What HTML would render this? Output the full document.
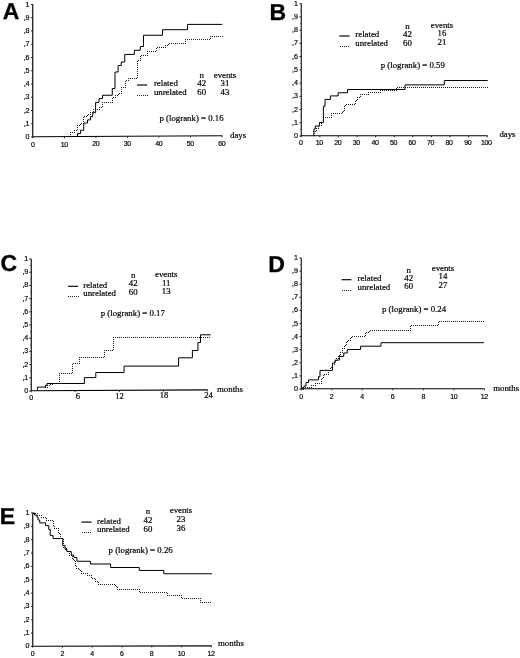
<!DOCTYPE html>
<html><head><meta charset="utf-8"><title>Figure</title>
<style>
html,body{margin:0;padding:0;background:#fff;}
body{width:520px;height:658px;overflow:hidden;font-family:"Liberation Sans",sans-serif;}
svg{display:block;filter:grayscale(1);}
text.sf{fill:#000;stroke:#000;stroke-width:0.2px;}text.lb{fill:#000;stroke:#000;stroke-width:0.18px;}text.lt{fill:#000;stroke:#000;stroke-width:0.3px;}
</style></head><body>
<svg width="520" height="658" viewBox="0 0 520 658">
<rect width="520" height="658" fill="#fff"/>
<text x="2.80" y="19.00" class="lt" style="text-rendering:geometricPrecision" font-size="23px" font-family='"Liberation Sans", sans-serif' font-weight="bold">A</text>
<path d="M32.75 4.20 V136.75 L222.50 135.75" fill="none" stroke="#000" stroke-width="1.12"/>
<path d="M31.00 137.00 H32.80" stroke="#111" stroke-width="0.9"/>
<text x="29.40" y="139.00" class="lb" font-size="7.20px" font-family='"Liberation Sans", sans-serif' text-anchor="end" font-weight="normal" letter-spacing="-0.15">0</text>
<path d="M31.00 123.75 H32.80" stroke="#111" stroke-width="0.9"/>
<text x="29.40" y="125.75" class="lb" font-size="7.20px" font-family='"Liberation Sans", sans-serif' text-anchor="end" font-weight="normal" letter-spacing="-0.15">,1</text>
<path d="M31.00 110.50 H32.80" stroke="#111" stroke-width="0.9"/>
<text x="29.40" y="112.50" class="lb" font-size="7.20px" font-family='"Liberation Sans", sans-serif' text-anchor="end" font-weight="normal" letter-spacing="-0.15">,2</text>
<path d="M31.00 97.25 H32.80" stroke="#111" stroke-width="0.9"/>
<text x="29.40" y="99.25" class="lb" font-size="7.20px" font-family='"Liberation Sans", sans-serif' text-anchor="end" font-weight="normal" letter-spacing="-0.15">,3</text>
<path d="M31.00 84.00 H32.80" stroke="#111" stroke-width="0.9"/>
<text x="29.40" y="86.00" class="lb" font-size="7.20px" font-family='"Liberation Sans", sans-serif' text-anchor="end" font-weight="normal" letter-spacing="-0.15">,4</text>
<path d="M31.00 70.75 H32.80" stroke="#111" stroke-width="0.9"/>
<text x="29.40" y="72.75" class="lb" font-size="7.20px" font-family='"Liberation Sans", sans-serif' text-anchor="end" font-weight="normal" letter-spacing="-0.15">,5</text>
<path d="M31.00 57.50 H32.80" stroke="#111" stroke-width="0.9"/>
<text x="29.40" y="59.50" class="lb" font-size="7.20px" font-family='"Liberation Sans", sans-serif' text-anchor="end" font-weight="normal" letter-spacing="-0.15">,6</text>
<path d="M31.00 44.25 H32.80" stroke="#111" stroke-width="0.9"/>
<text x="29.40" y="46.25" class="lb" font-size="7.20px" font-family='"Liberation Sans", sans-serif' text-anchor="end" font-weight="normal" letter-spacing="-0.15">,7</text>
<path d="M31.00 31.00 H32.80" stroke="#111" stroke-width="0.9"/>
<text x="29.40" y="33.00" class="lb" font-size="7.20px" font-family='"Liberation Sans", sans-serif' text-anchor="end" font-weight="normal" letter-spacing="-0.15">,8</text>
<path d="M31.00 17.75 H32.80" stroke="#111" stroke-width="0.9"/>
<text x="29.40" y="19.75" class="lb" font-size="7.20px" font-family='"Liberation Sans", sans-serif' text-anchor="end" font-weight="normal" letter-spacing="-0.15">,9</text>
<path d="M31.00 4.50 H32.80" stroke="#111" stroke-width="0.9"/>
<text x="29.40" y="6.50" class="lb" font-size="7.20px" font-family='"Liberation Sans", sans-serif' text-anchor="end" font-weight="normal" letter-spacing="-0.15">1</text>
<path d="M31.80 130.38 H32.80" stroke="#222" stroke-width="0.6"/>
<path d="M31.80 117.12 H32.80" stroke="#222" stroke-width="0.6"/>
<path d="M31.80 103.88 H32.80" stroke="#222" stroke-width="0.6"/>
<path d="M31.80 90.62 H32.80" stroke="#222" stroke-width="0.6"/>
<path d="M31.80 77.38 H32.80" stroke="#222" stroke-width="0.6"/>
<path d="M31.80 64.12 H32.80" stroke="#222" stroke-width="0.6"/>
<path d="M31.80 50.88 H32.80" stroke="#222" stroke-width="0.6"/>
<path d="M31.80 37.62 H32.80" stroke="#222" stroke-width="0.6"/>
<path d="M31.80 24.38 H32.80" stroke="#222" stroke-width="0.6"/>
<path d="M31.80 11.12 H32.80" stroke="#222" stroke-width="0.6"/>
<path d="M33.00 137.00 V138.30" stroke="#111" stroke-width="0.9"/>
<text x="32.80" y="146.70" class="lb" font-size="7.00px" font-family='"Liberation Sans", sans-serif' text-anchor="middle" font-weight="normal" letter-spacing="-0.4">0</text>
<path d="M64.50 136.83 V138.13" stroke="#111" stroke-width="0.9"/>
<text x="64.30" y="146.53" class="lb" font-size="7.00px" font-family='"Liberation Sans", sans-serif' text-anchor="middle" font-weight="normal" letter-spacing="-0.4">10</text>
<path d="M96.00 136.67 V137.97" stroke="#111" stroke-width="0.9"/>
<text x="95.80" y="146.37" class="lb" font-size="7.00px" font-family='"Liberation Sans", sans-serif' text-anchor="middle" font-weight="normal" letter-spacing="-0.4">20</text>
<path d="M127.50 136.50 V137.80" stroke="#111" stroke-width="0.9"/>
<text x="127.30" y="146.20" class="lb" font-size="7.00px" font-family='"Liberation Sans", sans-serif' text-anchor="middle" font-weight="normal" letter-spacing="-0.4">30</text>
<path d="M159.00 136.34 V137.64" stroke="#111" stroke-width="0.9"/>
<text x="158.80" y="146.04" class="lb" font-size="7.00px" font-family='"Liberation Sans", sans-serif' text-anchor="middle" font-weight="normal" letter-spacing="-0.4">40</text>
<path d="M190.50 136.17 V137.47" stroke="#111" stroke-width="0.9"/>
<text x="190.30" y="145.87" class="lb" font-size="7.00px" font-family='"Liberation Sans", sans-serif' text-anchor="middle" font-weight="normal" letter-spacing="-0.4">50</text>
<path d="M222.00 136.00 V137.30" stroke="#111" stroke-width="0.9"/>
<text x="221.80" y="145.70" class="lb" font-size="7.00px" font-family='"Liberation Sans", sans-serif' text-anchor="middle" font-weight="normal" letter-spacing="-0.4">60</text>
<text x="230.00" y="137.50" class="sf" font-size="8.80px" font-family='"Liberation Serif", serif' text-anchor="start" font-weight="normal" >days</text>
<path d="M77.50 137.00 H77.50 V133.60 H80.60 V130.25 H83.75 V123.00 H87.50 V119.90 H90.60 V116.50 H92.75 V112.75 H95.60 V102.40 H99.00 V98.60 H102.50 V95.25 H112.25 V88.50 H115.00 V72.00 H118.10 V65.50 H121.25 V62.00 H124.75 V54.40 H134.40 V50.25 H140.25 V46.50 H143.50 V35.25 H162.50 V29.70 H187.50 V24.40 H222.30" fill="none" stroke="#000" stroke-width="1.0" stroke-linejoin="miter"/>
<path d="M70 132h1v1h-1zM70 134h1v1h-1zM70 136h1v1h-1zM72 132h1v1h-1zM74 132h1v1h-1zM74 130h1v1h-1zM76 130h1v1h-1zM77 125h1v1h-1zM77 127h1v1h-1zM77 129h1v1h-1zM79 125h1v1h-1zM80 124h1v1h-1zM81 123h1v1h-1zM83 123h1v1h-1zM83 117h1v1h-1zM83 119h1v1h-1zM83 121h1v1h-1zM84 116h1v1h-1zM86 116h1v1h-1zM87 115h1v1h-1zM88 114h1v1h-1zM90 114h1v1h-1zM90 112h1v1h-1zM92 112h1v1h-1zM93 109h1v1h-1zM93 111h1v1h-1zM95 109h1v1h-1zM97 109h1v1h-1zM99 109h1v1h-1zM99 107h1v1h-1zM101 107h1v1h-1zM102 102h1v1h-1zM102 104h1v1h-1zM102 106h1v1h-1zM104 102h1v1h-1zM106 102h1v1h-1zM108 102h1v1h-1zM110 102h1v1h-1zM112 102h1v1h-1zM112 98h1v1h-1zM112 100h1v1h-1zM113 97h1v1h-1zM115 97h1v1h-1zM115 95h1v1h-1zM117 95h1v1h-1zM118 94h1v1h-1zM119 93h1v1h-1zM121 93h1v1h-1zM121 87h1v1h-1zM121 89h1v1h-1zM121 91h1v1h-1zM123 87h1v1h-1zM125 87h1v1h-1zM125 81h1v1h-1zM125 83h1v1h-1zM125 85h1v1h-1zM126 80h1v1h-1zM128 80h1v1h-1zM128 78h1v1h-1zM130 78h1v1h-1zM132 78h1v1h-1zM134 78h1v1h-1zM136 78h1v1h-1zM137 61h1v1h-1zM137 63h1v1h-1zM137 65h1v1h-1zM137 67h1v1h-1zM137 69h1v1h-1zM137 71h1v1h-1zM137 73h1v1h-1zM137 75h1v1h-1zM137 77h1v1h-1zM138 60h1v1h-1zM140 60h1v1h-1zM140 56h1v1h-1zM140 58h1v1h-1zM141 55h1v1h-1zM143 55h1v1h-1zM145 55h1v1h-1zM147 55h1v1h-1zM147 51h1v1h-1zM147 53h1v1h-1zM149 51h1v1h-1zM151 51h1v1h-1zM153 51h1v1h-1zM155 51h1v1h-1zM156 48h1v1h-1zM156 50h1v1h-1zM157 47h1v1h-1zM159 47h1v1h-1zM161 47h1v1h-1zM163 47h1v1h-1zM165 47h1v1h-1zM165 45h1v1h-1zM167 45h1v1h-1zM168 44h1v1h-1zM169 43h1v1h-1zM171 43h1v1h-1zM173 43h1v1h-1zM175 43h1v1h-1zM177 43h1v1h-1zM179 43h1v1h-1zM181 43h1v1h-1zM183 43h1v1h-1zM185 43h1v1h-1zM185 39h1v1h-1zM185 41h1v1h-1zM187 39h1v1h-1zM189 39h1v1h-1zM191 39h1v1h-1zM193 39h1v1h-1zM195 39h1v1h-1zM197 39h1v1h-1zM199 39h1v1h-1zM201 39h1v1h-1zM203 39h1v1h-1zM205 39h1v1h-1zM207 39h1v1h-1zM209 39h1v1h-1zM210 36h1v1h-1zM210 38h1v1h-1zM212 36h1v1h-1zM214 36h1v1h-1zM216 36h1v1h-1zM218 36h1v1h-1zM220 36h1v1h-1zM222 36h1v1h-1z" fill="#1a1a1a"/>
<path d="M137.00 85.00 H147.20" fill="none" stroke="#000" stroke-width="1.15"/>
<path d="M137 95h1v1h-1zM139 95h1v1h-1zM141 95h1v1h-1zM143 95h1v1h-1zM145 95h1v1h-1zM147 95h1v1h-1z" fill="#1a1a1a"/>
<text x="153.90" y="86.00" class="sf" font-size="8.80px" font-family='"Liberation Serif", serif' text-anchor="start" font-weight="normal" >related</text>
<text x="153.90" y="95.00" class="sf" font-size="8.80px" font-family='"Liberation Serif", serif' text-anchor="start" font-weight="normal" >unrelated</text>
<text x="201.75" y="78.40" class="sf" font-size="8.80px" font-family='"Liberation Serif", serif' text-anchor="middle" font-weight="normal" >n</text>
<text x="225.00" y="78.40" class="sf" font-size="8.80px" font-family='"Liberation Serif", serif' text-anchor="middle" font-weight="normal" >events</text>
<text x="201.75" y="86.00" class="sf" font-size="8.80px" font-family='"Liberation Serif", serif' text-anchor="middle" font-weight="normal" >42</text>
<text x="201.75" y="95.00" class="sf" font-size="8.80px" font-family='"Liberation Serif", serif' text-anchor="middle" font-weight="normal" >60</text>
<text x="225.00" y="86.00" class="sf" font-size="8.80px" font-family='"Liberation Serif", serif' text-anchor="middle" font-weight="normal" >31</text>
<text x="225.00" y="95.00" class="sf" font-size="8.80px" font-family='"Liberation Serif", serif' text-anchor="middle" font-weight="normal" >43</text>
<text x="159.50" y="121.00" class="sf" font-size="8.80px" font-family='"Liberation Serif", serif' text-anchor="start" font-weight="normal" >p (logrank) = 0.16</text>
<text x="269.40" y="19.75" class="lt" style="text-rendering:geometricPrecision" font-size="23px" font-family='"Liberation Sans", sans-serif' font-weight="bold">B</text>
<path d="M301.25 3.45 V135.75 L487.70 135.75" fill="none" stroke="#000" stroke-width="1.05"/>
<path d="M299.40 136.00 H301.20" stroke="#111" stroke-width="0.9"/>
<text x="297.80" y="138.00" class="lb" font-size="7.20px" font-family='"Liberation Sans", sans-serif' text-anchor="end" font-weight="normal" letter-spacing="-0.15">0</text>
<path d="M299.40 122.78 H301.20" stroke="#111" stroke-width="0.9"/>
<text x="297.80" y="124.78" class="lb" font-size="7.20px" font-family='"Liberation Sans", sans-serif' text-anchor="end" font-weight="normal" letter-spacing="-0.15">,1</text>
<path d="M299.40 109.55 H301.20" stroke="#111" stroke-width="0.9"/>
<text x="297.80" y="111.55" class="lb" font-size="7.20px" font-family='"Liberation Sans", sans-serif' text-anchor="end" font-weight="normal" letter-spacing="-0.15">,2</text>
<path d="M299.40 96.33 H301.20" stroke="#111" stroke-width="0.9"/>
<text x="297.80" y="98.33" class="lb" font-size="7.20px" font-family='"Liberation Sans", sans-serif' text-anchor="end" font-weight="normal" letter-spacing="-0.15">,3</text>
<path d="M299.40 83.10 H301.20" stroke="#111" stroke-width="0.9"/>
<text x="297.80" y="85.10" class="lb" font-size="7.20px" font-family='"Liberation Sans", sans-serif' text-anchor="end" font-weight="normal" letter-spacing="-0.15">,4</text>
<path d="M299.40 69.88 H301.20" stroke="#111" stroke-width="0.9"/>
<text x="297.80" y="71.88" class="lb" font-size="7.20px" font-family='"Liberation Sans", sans-serif' text-anchor="end" font-weight="normal" letter-spacing="-0.15">,5</text>
<path d="M299.40 56.65 H301.20" stroke="#111" stroke-width="0.9"/>
<text x="297.80" y="58.65" class="lb" font-size="7.20px" font-family='"Liberation Sans", sans-serif' text-anchor="end" font-weight="normal" letter-spacing="-0.15">,6</text>
<path d="M299.40 43.42 H301.20" stroke="#111" stroke-width="0.9"/>
<text x="297.80" y="45.42" class="lb" font-size="7.20px" font-family='"Liberation Sans", sans-serif' text-anchor="end" font-weight="normal" letter-spacing="-0.15">,7</text>
<path d="M299.40 30.20 H301.20" stroke="#111" stroke-width="0.9"/>
<text x="297.80" y="32.20" class="lb" font-size="7.20px" font-family='"Liberation Sans", sans-serif' text-anchor="end" font-weight="normal" letter-spacing="-0.15">,8</text>
<path d="M299.40 16.98 H301.20" stroke="#111" stroke-width="0.9"/>
<text x="297.80" y="18.98" class="lb" font-size="7.20px" font-family='"Liberation Sans", sans-serif' text-anchor="end" font-weight="normal" letter-spacing="-0.15">,9</text>
<path d="M299.40 3.75 H301.20" stroke="#111" stroke-width="0.9"/>
<text x="297.80" y="5.75" class="lb" font-size="7.20px" font-family='"Liberation Sans", sans-serif' text-anchor="end" font-weight="normal" letter-spacing="-0.15">1</text>
<path d="M300.20 129.39 H301.20" stroke="#222" stroke-width="0.6"/>
<path d="M300.20 116.16 H301.20" stroke="#222" stroke-width="0.6"/>
<path d="M300.20 102.94 H301.20" stroke="#222" stroke-width="0.6"/>
<path d="M300.20 89.71 H301.20" stroke="#222" stroke-width="0.6"/>
<path d="M300.20 76.49 H301.20" stroke="#222" stroke-width="0.6"/>
<path d="M300.20 63.26 H301.20" stroke="#222" stroke-width="0.6"/>
<path d="M300.20 50.04 H301.20" stroke="#222" stroke-width="0.6"/>
<path d="M300.20 36.81 H301.20" stroke="#222" stroke-width="0.6"/>
<path d="M300.20 23.59 H301.20" stroke="#222" stroke-width="0.6"/>
<path d="M300.20 10.36 H301.20" stroke="#222" stroke-width="0.6"/>
<path d="M301.20 136.00 V137.30" stroke="#111" stroke-width="0.9"/>
<text x="300.70" y="145.40" class="lb" font-size="7.00px" font-family='"Liberation Sans", sans-serif' text-anchor="middle" font-weight="normal" letter-spacing="-0.4">0</text>
<path d="M319.80 136.00 V137.30" stroke="#111" stroke-width="0.9"/>
<text x="319.25" y="145.40" class="lb" font-size="7.00px" font-family='"Liberation Sans", sans-serif' text-anchor="middle" font-weight="normal" letter-spacing="-0.4">10</text>
<path d="M338.40 136.00 V137.30" stroke="#111" stroke-width="0.9"/>
<text x="337.80" y="145.40" class="lb" font-size="7.00px" font-family='"Liberation Sans", sans-serif' text-anchor="middle" font-weight="normal" letter-spacing="-0.4">20</text>
<path d="M357.00 136.00 V137.30" stroke="#111" stroke-width="0.9"/>
<text x="356.35" y="145.40" class="lb" font-size="7.00px" font-family='"Liberation Sans", sans-serif' text-anchor="middle" font-weight="normal" letter-spacing="-0.4">30</text>
<path d="M375.60 136.00 V137.30" stroke="#111" stroke-width="0.9"/>
<text x="374.90" y="145.40" class="lb" font-size="7.00px" font-family='"Liberation Sans", sans-serif' text-anchor="middle" font-weight="normal" letter-spacing="-0.4">40</text>
<path d="M394.20 136.00 V137.30" stroke="#111" stroke-width="0.9"/>
<text x="393.45" y="145.40" class="lb" font-size="7.00px" font-family='"Liberation Sans", sans-serif' text-anchor="middle" font-weight="normal" letter-spacing="-0.4">50</text>
<path d="M412.80 136.00 V137.30" stroke="#111" stroke-width="0.9"/>
<text x="412.00" y="145.40" class="lb" font-size="7.00px" font-family='"Liberation Sans", sans-serif' text-anchor="middle" font-weight="normal" letter-spacing="-0.4">60</text>
<path d="M431.40 136.00 V137.30" stroke="#111" stroke-width="0.9"/>
<text x="430.55" y="145.40" class="lb" font-size="7.00px" font-family='"Liberation Sans", sans-serif' text-anchor="middle" font-weight="normal" letter-spacing="-0.4">70</text>
<path d="M450.00 136.00 V137.30" stroke="#111" stroke-width="0.9"/>
<text x="449.10" y="145.40" class="lb" font-size="7.00px" font-family='"Liberation Sans", sans-serif' text-anchor="middle" font-weight="normal" letter-spacing="-0.4">80</text>
<path d="M468.60 136.00 V137.30" stroke="#111" stroke-width="0.9"/>
<text x="467.65" y="145.40" class="lb" font-size="7.00px" font-family='"Liberation Sans", sans-serif' text-anchor="middle" font-weight="normal" letter-spacing="-0.4">90</text>
<path d="M487.20 136.00 V137.30" stroke="#111" stroke-width="0.9"/>
<text x="486.20" y="145.40" class="lb" font-size="7.00px" font-family='"Liberation Sans", sans-serif' text-anchor="middle" font-weight="normal" letter-spacing="-0.4">100</text>
<text x="499.40" y="136.90" class="sf" font-size="8.80px" font-family='"Liberation Serif", serif' text-anchor="start" font-weight="normal" >days</text>
<path d="M314.00 136.00 H314.00 V129.00 H315.25 V126.00 H319.40 V122.50 H323.40 V106.25 H325.00 V99.40 H330.40 V95.90 H338.10 V92.75 H347.50 V89.50 H405.00 V84.85 H444.30 V80.50 H487.70" fill="none" stroke="#000" stroke-width="1.0" stroke-linejoin="miter"/>
<path d="M313 131h1v1h-1zM313 133h1v1h-1zM313 135h1v1h-1zM315 131h1v1h-1zM316 128h1v1h-1zM316 130h1v1h-1zM318 128h1v1h-1zM318 126h1v1h-1zM319 125h1v1h-1zM321 125h1v1h-1zM321 123h1v1h-1zM322 122h1v1h-1zM323 117h1v1h-1zM323 119h1v1h-1zM323 121h1v1h-1zM325 117h1v1h-1zM327 117h1v1h-1zM329 117h1v1h-1zM331 117h1v1h-1zM331 113h1v1h-1zM331 115h1v1h-1zM333 113h1v1h-1zM335 113h1v1h-1zM337 113h1v1h-1zM339 113h1v1h-1zM341 113h1v1h-1zM342 112h1v1h-1zM343 111h1v1h-1zM344 106h1v1h-1zM344 108h1v1h-1zM344 110h1v1h-1zM345 105h1v1h-1zM346 104h1v1h-1zM348 104h1v1h-1zM350 104h1v1h-1zM352 104h1v1h-1zM354 104h1v1h-1zM355 101h1v1h-1zM355 103h1v1h-1zM356 100h1v1h-1zM357 97h1v1h-1zM357 99h1v1h-1zM359 97h1v1h-1zM360 94h1v1h-1zM360 96h1v1h-1zM362 94h1v1h-1zM364 94h1v1h-1zM366 94h1v1h-1zM368 94h1v1h-1zM368 92h1v1h-1zM370 92h1v1h-1zM372 92h1v1h-1zM374 92h1v1h-1zM376 92h1v1h-1zM378 92h1v1h-1zM380 92h1v1h-1zM380 90h1v1h-1zM382 90h1v1h-1zM384 90h1v1h-1zM386 90h1v1h-1zM388 90h1v1h-1zM390 90h1v1h-1zM392 90h1v1h-1zM394 90h1v1h-1zM396 90h1v1h-1zM396 88h1v1h-1zM397 87h1v1h-1zM399 87h1v1h-1zM401 87h1v1h-1zM403 87h1v1h-1zM405 87h1v1h-1zM407 87h1v1h-1zM409 87h1v1h-1zM411 87h1v1h-1zM413 87h1v1h-1zM415 87h1v1h-1zM417 87h1v1h-1zM419 87h1v1h-1zM421 87h1v1h-1zM423 87h1v1h-1zM425 87h1v1h-1zM427 87h1v1h-1zM429 87h1v1h-1zM431 87h1v1h-1zM433 87h1v1h-1zM435 87h1v1h-1zM437 87h1v1h-1zM439 87h1v1h-1zM441 87h1v1h-1zM443 87h1v1h-1zM445 87h1v1h-1zM447 87h1v1h-1zM449 87h1v1h-1zM451 87h1v1h-1zM453 87h1v1h-1zM455 87h1v1h-1zM457 87h1v1h-1zM459 87h1v1h-1zM461 87h1v1h-1zM463 87h1v1h-1zM465 87h1v1h-1zM467 87h1v1h-1zM469 87h1v1h-1zM471 87h1v1h-1zM473 87h1v1h-1zM475 87h1v1h-1zM477 87h1v1h-1zM479 87h1v1h-1zM481 87h1v1h-1zM483 87h1v1h-1zM485 87h1v1h-1zM487 87h1v1h-1z" fill="#1a1a1a"/>
<path d="M339.30 36.00 H349.60" fill="none" stroke="#000" stroke-width="1.15"/>
<path d="M340 46h1v1h-1zM342 46h1v1h-1zM344 46h1v1h-1zM346 46h1v1h-1zM348 46h1v1h-1z" fill="#1a1a1a"/>
<text x="355.30" y="36.90" class="sf" font-size="8.80px" font-family='"Liberation Serif", serif' text-anchor="start" font-weight="normal" >related</text>
<text x="355.30" y="46.25" class="sf" font-size="8.80px" font-family='"Liberation Serif", serif' text-anchor="start" font-weight="normal" >unrelated</text>
<text x="407.50" y="28.60" class="sf" font-size="8.80px" font-family='"Liberation Serif", serif' text-anchor="middle" font-weight="normal" >n</text>
<text x="442.00" y="28.30" class="sf" font-size="8.80px" font-family='"Liberation Serif", serif' text-anchor="middle" font-weight="normal" >events</text>
<text x="407.50" y="36.75" class="sf" font-size="8.80px" font-family='"Liberation Serif", serif' text-anchor="middle" font-weight="normal" >42</text>
<text x="407.50" y="45.75" class="sf" font-size="8.80px" font-family='"Liberation Serif", serif' text-anchor="middle" font-weight="normal" >60</text>
<text x="442.00" y="35.50" class="sf" font-size="8.80px" font-family='"Liberation Serif", serif' text-anchor="middle" font-weight="normal" >16</text>
<text x="442.00" y="44.50" class="sf" font-size="8.80px" font-family='"Liberation Serif", serif' text-anchor="middle" font-weight="normal" >21</text>
<text x="380.75" y="67.70" class="sf" font-size="8.80px" font-family='"Liberation Serif", serif' text-anchor="start" font-weight="normal" >p (logrank) = 0.59</text>
<text x="0.50" y="271.00" class="lt" style="text-rendering:geometricPrecision" font-size="23px" font-family='"Liberation Sans", sans-serif' font-weight="bold">C</text>
<path d="M31.25 258.70 V390.75 L207.70 389.85" fill="none" stroke="#000" stroke-width="1.12"/>
<path d="M29.20 391.00 H31.00" stroke="#111" stroke-width="0.9"/>
<text x="28.20" y="393.00" class="lb" font-size="7.20px" font-family='"Liberation Sans", sans-serif' text-anchor="end" font-weight="normal" letter-spacing="-0.15">0</text>
<path d="M29.20 377.80 H31.00" stroke="#111" stroke-width="0.9"/>
<text x="28.20" y="379.80" class="lb" font-size="7.20px" font-family='"Liberation Sans", sans-serif' text-anchor="end" font-weight="normal" letter-spacing="-0.15">,1</text>
<path d="M29.20 364.60 H31.00" stroke="#111" stroke-width="0.9"/>
<text x="28.20" y="366.60" class="lb" font-size="7.20px" font-family='"Liberation Sans", sans-serif' text-anchor="end" font-weight="normal" letter-spacing="-0.15">,2</text>
<path d="M29.20 351.40 H31.00" stroke="#111" stroke-width="0.9"/>
<text x="28.20" y="353.40" class="lb" font-size="7.20px" font-family='"Liberation Sans", sans-serif' text-anchor="end" font-weight="normal" letter-spacing="-0.15">,3</text>
<path d="M29.20 338.20 H31.00" stroke="#111" stroke-width="0.9"/>
<text x="28.20" y="340.20" class="lb" font-size="7.20px" font-family='"Liberation Sans", sans-serif' text-anchor="end" font-weight="normal" letter-spacing="-0.15">,4</text>
<path d="M29.20 325.00 H31.00" stroke="#111" stroke-width="0.9"/>
<text x="28.20" y="327.00" class="lb" font-size="7.20px" font-family='"Liberation Sans", sans-serif' text-anchor="end" font-weight="normal" letter-spacing="-0.15">,5</text>
<path d="M29.20 311.80 H31.00" stroke="#111" stroke-width="0.9"/>
<text x="28.20" y="313.80" class="lb" font-size="7.20px" font-family='"Liberation Sans", sans-serif' text-anchor="end" font-weight="normal" letter-spacing="-0.15">,6</text>
<path d="M29.20 298.60 H31.00" stroke="#111" stroke-width="0.9"/>
<text x="28.20" y="300.60" class="lb" font-size="7.20px" font-family='"Liberation Sans", sans-serif' text-anchor="end" font-weight="normal" letter-spacing="-0.15">,7</text>
<path d="M29.20 285.40 H31.00" stroke="#111" stroke-width="0.9"/>
<text x="28.20" y="287.40" class="lb" font-size="7.20px" font-family='"Liberation Sans", sans-serif' text-anchor="end" font-weight="normal" letter-spacing="-0.15">,8</text>
<path d="M29.20 272.20 H31.00" stroke="#111" stroke-width="0.9"/>
<text x="28.20" y="274.20" class="lb" font-size="7.20px" font-family='"Liberation Sans", sans-serif' text-anchor="end" font-weight="normal" letter-spacing="-0.15">,9</text>
<path d="M29.20 259.00 H31.00" stroke="#111" stroke-width="0.9"/>
<text x="28.20" y="261.00" class="lb" font-size="7.20px" font-family='"Liberation Sans", sans-serif' text-anchor="end" font-weight="normal" letter-spacing="-0.15">1</text>
<path d="M30.00 384.40 H31.00" stroke="#222" stroke-width="0.6"/>
<path d="M30.00 371.20 H31.00" stroke="#222" stroke-width="0.6"/>
<path d="M30.00 358.00 H31.00" stroke="#222" stroke-width="0.6"/>
<path d="M30.00 344.80 H31.00" stroke="#222" stroke-width="0.6"/>
<path d="M30.00 331.60 H31.00" stroke="#222" stroke-width="0.6"/>
<path d="M30.00 318.40 H31.00" stroke="#222" stroke-width="0.6"/>
<path d="M30.00 305.20 H31.00" stroke="#222" stroke-width="0.6"/>
<path d="M30.00 292.00 H31.00" stroke="#222" stroke-width="0.6"/>
<path d="M30.00 278.80 H31.00" stroke="#222" stroke-width="0.6"/>
<path d="M30.00 265.60 H31.00" stroke="#222" stroke-width="0.6"/>
<path d="M31.00 391.00 V392.30" stroke="#111" stroke-width="0.9"/>
<text x="31.00" y="400.00" class="lb" font-size="7.00px" font-family='"Liberation Sans", sans-serif' text-anchor="middle" font-weight="normal" letter-spacing="-0.4">0</text>
<path d="M75.16 390.78 V392.08" stroke="#111" stroke-width="0.9"/>
<text x="78.00" y="398.78" class="sf" font-size="8.60px" font-family='"Liberation Serif", serif' text-anchor="middle" font-weight="normal" >6</text>
<path d="M119.32 390.55 V391.85" stroke="#111" stroke-width="0.9"/>
<text x="119.50" y="398.55" class="sf" font-size="8.60px" font-family='"Liberation Serif", serif' text-anchor="middle" font-weight="normal" >12</text>
<path d="M163.48 390.33 V391.63" stroke="#111" stroke-width="0.9"/>
<text x="164.00" y="398.33" class="sf" font-size="8.60px" font-family='"Liberation Serif", serif' text-anchor="middle" font-weight="normal" >18</text>
<path d="M207.64 390.10 V391.40" stroke="#111" stroke-width="0.9"/>
<text x="208.50" y="398.10" class="sf" font-size="8.60px" font-family='"Liberation Serif", serif' text-anchor="middle" font-weight="normal" >24</text>
<text x="217.00" y="391.50" class="sf" font-size="8.80px" font-family='"Liberation Serif", serif' text-anchor="start" font-weight="normal" >months</text>
<path d="M37.40 391.00 H37.40 V387.10 H45.50 V385.30 H47.00 V383.50 H84.40 V377.60 H95.80 V372.50 H124.10 V366.10 H178.60 V357.80 H192.40 V350.50 H197.90 V342.60 H200.50 V334.80 H210.80" fill="none" stroke="#000" stroke-width="1.0" stroke-linejoin="miter"/>
<path d="M45 387h1v1h-1zM47 387h1v1h-1zM47 385h1v1h-1zM49 385h1v1h-1zM50 384h1v1h-1zM52 384h1v1h-1zM53 383h1v1h-1zM55 383h1v1h-1zM57 383h1v1h-1zM59 383h1v1h-1zM59 373h1v1h-1zM59 375h1v1h-1zM59 377h1v1h-1zM59 379h1v1h-1zM59 381h1v1h-1zM61 373h1v1h-1zM63 373h1v1h-1zM65 373h1v1h-1zM67 373h1v1h-1zM69 373h1v1h-1zM71 373h1v1h-1zM72 364h1v1h-1zM72 366h1v1h-1zM72 368h1v1h-1zM72 370h1v1h-1zM72 372h1v1h-1zM73 363h1v1h-1zM75 363h1v1h-1zM77 363h1v1h-1zM79 363h1v1h-1zM79 357h1v1h-1zM79 359h1v1h-1zM79 361h1v1h-1zM81 357h1v1h-1zM83 357h1v1h-1zM85 357h1v1h-1zM87 357h1v1h-1zM89 357h1v1h-1zM91 357h1v1h-1zM93 357h1v1h-1zM95 357h1v1h-1zM97 357h1v1h-1zM99 357h1v1h-1zM101 357h1v1h-1zM103 357h1v1h-1zM104 350h1v1h-1zM104 352h1v1h-1zM104 354h1v1h-1zM104 356h1v1h-1zM106 350h1v1h-1zM108 350h1v1h-1zM110 350h1v1h-1zM112 350h1v1h-1zM113 337h1v1h-1zM113 339h1v1h-1zM113 341h1v1h-1zM113 343h1v1h-1zM113 345h1v1h-1zM113 347h1v1h-1zM113 349h1v1h-1zM115 337h1v1h-1zM117 337h1v1h-1zM119 337h1v1h-1zM121 337h1v1h-1zM123 337h1v1h-1zM125 337h1v1h-1zM127 337h1v1h-1zM129 337h1v1h-1zM131 337h1v1h-1zM133 337h1v1h-1zM135 337h1v1h-1zM137 337h1v1h-1zM139 337h1v1h-1zM141 337h1v1h-1zM143 337h1v1h-1zM145 337h1v1h-1zM147 337h1v1h-1zM149 337h1v1h-1zM151 337h1v1h-1zM153 337h1v1h-1zM155 337h1v1h-1zM157 337h1v1h-1zM159 337h1v1h-1zM161 337h1v1h-1zM163 337h1v1h-1zM165 337h1v1h-1zM167 337h1v1h-1zM169 337h1v1h-1zM171 337h1v1h-1zM173 337h1v1h-1zM175 337h1v1h-1zM177 337h1v1h-1zM179 337h1v1h-1zM181 337h1v1h-1zM183 337h1v1h-1zM185 337h1v1h-1zM187 337h1v1h-1zM189 337h1v1h-1zM191 337h1v1h-1zM193 337h1v1h-1zM195 337h1v1h-1zM197 337h1v1h-1zM199 337h1v1h-1zM201 337h1v1h-1zM203 337h1v1h-1zM205 337h1v1h-1zM207 337h1v1h-1zM209 337h1v1h-1z" fill="#1a1a1a"/>
<path d="M68.00 286.30 H78.00" fill="none" stroke="#000" stroke-width="1.15"/>
<path d="M68 296h1v1h-1zM70 296h1v1h-1zM72 296h1v1h-1zM74 296h1v1h-1zM76 296h1v1h-1zM78 296h1v1h-1z" fill="#1a1a1a"/>
<text x="83.25" y="287.50" class="sf" font-size="8.80px" font-family='"Liberation Serif", serif' text-anchor="start" font-weight="normal" >related</text>
<text x="83.25" y="295.90" class="sf" font-size="8.80px" font-family='"Liberation Serif", serif' text-anchor="start" font-weight="normal" >unrelated</text>
<text x="133.25" y="278.20" class="sf" font-size="8.80px" font-family='"Liberation Serif", serif' text-anchor="middle" font-weight="normal" >n</text>
<text x="166.25" y="276.80" class="sf" font-size="8.80px" font-family='"Liberation Serif", serif' text-anchor="middle" font-weight="normal" >events</text>
<text x="133.25" y="285.90" class="sf" font-size="8.80px" font-family='"Liberation Serif", serif' text-anchor="middle" font-weight="normal" >42</text>
<text x="133.25" y="295.10" class="sf" font-size="8.80px" font-family='"Liberation Serif", serif' text-anchor="middle" font-weight="normal" >60</text>
<text x="166.25" y="285.50" class="sf" font-size="8.80px" font-family='"Liberation Serif", serif' text-anchor="middle" font-weight="normal" >11</text>
<text x="166.25" y="294.00" class="sf" font-size="8.80px" font-family='"Liberation Serif", serif' text-anchor="middle" font-weight="normal" >13</text>
<text x="100.75" y="315.50" class="sf" font-size="8.80px" font-family='"Liberation Serif", serif' text-anchor="start" font-weight="normal" >p (logrank) = 0.17</text>
<text x="268.30" y="271.50" class="lt" style="text-rendering:geometricPrecision" font-size="23px" font-family='"Liberation Sans", sans-serif' font-weight="bold">D</text>
<path d="M301.25 257.70 V388.75 L484.50 388.75" fill="none" stroke="#000" stroke-width="1.05"/>
<path d="M299.40 389.00 H301.20" stroke="#111" stroke-width="0.9"/>
<text x="297.80" y="391.00" class="lb" font-size="7.20px" font-family='"Liberation Sans", sans-serif' text-anchor="end" font-weight="normal" letter-spacing="-0.15">0</text>
<path d="M299.40 375.90 H301.20" stroke="#111" stroke-width="0.9"/>
<text x="297.80" y="377.90" class="lb" font-size="7.20px" font-family='"Liberation Sans", sans-serif' text-anchor="end" font-weight="normal" letter-spacing="-0.15">,1</text>
<path d="M299.40 362.80 H301.20" stroke="#111" stroke-width="0.9"/>
<text x="297.80" y="364.80" class="lb" font-size="7.20px" font-family='"Liberation Sans", sans-serif' text-anchor="end" font-weight="normal" letter-spacing="-0.15">,2</text>
<path d="M299.40 349.70 H301.20" stroke="#111" stroke-width="0.9"/>
<text x="297.80" y="351.70" class="lb" font-size="7.20px" font-family='"Liberation Sans", sans-serif' text-anchor="end" font-weight="normal" letter-spacing="-0.15">,3</text>
<path d="M299.40 336.60 H301.20" stroke="#111" stroke-width="0.9"/>
<text x="297.80" y="338.60" class="lb" font-size="7.20px" font-family='"Liberation Sans", sans-serif' text-anchor="end" font-weight="normal" letter-spacing="-0.15">,4</text>
<path d="M299.40 323.50 H301.20" stroke="#111" stroke-width="0.9"/>
<text x="297.80" y="325.50" class="lb" font-size="7.20px" font-family='"Liberation Sans", sans-serif' text-anchor="end" font-weight="normal" letter-spacing="-0.15">,5</text>
<path d="M299.40 310.40 H301.20" stroke="#111" stroke-width="0.9"/>
<text x="297.80" y="312.40" class="lb" font-size="7.20px" font-family='"Liberation Sans", sans-serif' text-anchor="end" font-weight="normal" letter-spacing="-0.15">,6</text>
<path d="M299.40 297.30 H301.20" stroke="#111" stroke-width="0.9"/>
<text x="297.80" y="299.30" class="lb" font-size="7.20px" font-family='"Liberation Sans", sans-serif' text-anchor="end" font-weight="normal" letter-spacing="-0.15">,7</text>
<path d="M299.40 284.20 H301.20" stroke="#111" stroke-width="0.9"/>
<text x="297.80" y="286.20" class="lb" font-size="7.20px" font-family='"Liberation Sans", sans-serif' text-anchor="end" font-weight="normal" letter-spacing="-0.15">,8</text>
<path d="M299.40 271.10 H301.20" stroke="#111" stroke-width="0.9"/>
<text x="297.80" y="273.10" class="lb" font-size="7.20px" font-family='"Liberation Sans", sans-serif' text-anchor="end" font-weight="normal" letter-spacing="-0.15">,9</text>
<path d="M299.40 258.00 H301.20" stroke="#111" stroke-width="0.9"/>
<text x="297.80" y="260.00" class="lb" font-size="7.20px" font-family='"Liberation Sans", sans-serif' text-anchor="end" font-weight="normal" letter-spacing="-0.15">1</text>
<path d="M300.20 382.45 H301.20" stroke="#222" stroke-width="0.6"/>
<path d="M300.20 369.35 H301.20" stroke="#222" stroke-width="0.6"/>
<path d="M300.20 356.25 H301.20" stroke="#222" stroke-width="0.6"/>
<path d="M300.20 343.15 H301.20" stroke="#222" stroke-width="0.6"/>
<path d="M300.20 330.05 H301.20" stroke="#222" stroke-width="0.6"/>
<path d="M300.20 316.95 H301.20" stroke="#222" stroke-width="0.6"/>
<path d="M300.20 303.85 H301.20" stroke="#222" stroke-width="0.6"/>
<path d="M300.20 290.75 H301.20" stroke="#222" stroke-width="0.6"/>
<path d="M300.20 277.65 H301.20" stroke="#222" stroke-width="0.6"/>
<path d="M300.20 264.55 H301.20" stroke="#222" stroke-width="0.6"/>
<path d="M301.20 389.00 V390.30" stroke="#111" stroke-width="0.9"/>
<text x="301.00" y="398.65" class="lb" font-size="7.00px" font-family='"Liberation Sans", sans-serif' text-anchor="middle" font-weight="normal" letter-spacing="-0.4">0</text>
<path d="M331.74 389.00 V390.30" stroke="#111" stroke-width="0.9"/>
<text x="331.54" y="398.65" class="lb" font-size="7.00px" font-family='"Liberation Sans", sans-serif' text-anchor="middle" font-weight="normal" letter-spacing="-0.4">2</text>
<path d="M362.28 389.00 V390.30" stroke="#111" stroke-width="0.9"/>
<text x="362.08" y="398.65" class="lb" font-size="7.00px" font-family='"Liberation Sans", sans-serif' text-anchor="middle" font-weight="normal" letter-spacing="-0.4">4</text>
<path d="M392.82 389.00 V390.30" stroke="#111" stroke-width="0.9"/>
<text x="392.62" y="398.65" class="lb" font-size="7.00px" font-family='"Liberation Sans", sans-serif' text-anchor="middle" font-weight="normal" letter-spacing="-0.4">6</text>
<path d="M423.36 389.00 V390.30" stroke="#111" stroke-width="0.9"/>
<text x="423.16" y="398.65" class="lb" font-size="7.00px" font-family='"Liberation Sans", sans-serif' text-anchor="middle" font-weight="normal" letter-spacing="-0.4">8</text>
<path d="M453.90 389.00 V390.30" stroke="#111" stroke-width="0.9"/>
<text x="453.70" y="398.65" class="lb" font-size="7.00px" font-family='"Liberation Sans", sans-serif' text-anchor="middle" font-weight="normal" letter-spacing="-0.4">10</text>
<path d="M484.44 389.00 V390.30" stroke="#111" stroke-width="0.9"/>
<text x="484.24" y="398.65" class="lb" font-size="7.00px" font-family='"Liberation Sans", sans-serif' text-anchor="middle" font-weight="normal" letter-spacing="-0.4">12</text>
<text x="493.20" y="390.50" class="sf" font-size="8.80px" font-family='"Liberation Serif", serif' text-anchor="start" font-weight="normal" >months</text>
<path d="M301.50 389.00 H302.50 V387.50 H304.00 V386.00 H306.00 V382.50 H308.50 V379.90 H318.50 V376.60 H320.00 V370.40 H332.50 V363.00 H335.00 V360.10 H339.40 V356.40 H343.75 V353.00 H347.25 V349.50 H360.60 V346.20 H381.00 V342.70 H484.00" fill="none" stroke="#000" stroke-width="1.0" stroke-linejoin="miter"/>
<path d="M303 389h1v1h-1zM303 387h1v1h-1zM305 387h1v1h-1zM307 387h1v1h-1zM309 387h1v1h-1zM311 387h1v1h-1zM311 385h1v1h-1zM313 385h1v1h-1zM315 385h1v1h-1zM315 383h1v1h-1zM317 383h1v1h-1zM319 383h1v1h-1zM321 383h1v1h-1zM321 379h1v1h-1zM321 381h1v1h-1zM322 378h1v1h-1zM323 375h1v1h-1zM323 377h1v1h-1zM324 374h1v1h-1zM326 374h1v1h-1zM328 374h1v1h-1zM328 370h1v1h-1zM328 372h1v1h-1zM330 370h1v1h-1zM330 368h1v1h-1zM331 367h1v1h-1zM332 364h1v1h-1zM332 366h1v1h-1zM334 364h1v1h-1zM334 362h1v1h-1zM335 361h1v1h-1zM336 358h1v1h-1zM336 360h1v1h-1zM338 358h1v1h-1zM338 356h1v1h-1zM339 355h1v1h-1zM340 352h1v1h-1zM340 354h1v1h-1zM342 352h1v1h-1zM342 348h1v1h-1zM342 350h1v1h-1zM344 348h1v1h-1zM344 346h1v1h-1zM345 345h1v1h-1zM346 342h1v1h-1zM346 344h1v1h-1zM347 341h1v1h-1zM348 340h1v1h-1zM350 340h1v1h-1zM350 338h1v1h-1zM351 337h1v1h-1zM352 336h1v1h-1zM354 336h1v1h-1zM356 336h1v1h-1zM358 336h1v1h-1zM360 336h1v1h-1zM362 336h1v1h-1zM364 336h1v1h-1zM365 333h1v1h-1zM365 335h1v1h-1zM366 332h1v1h-1zM368 332h1v1h-1zM369 331h1v1h-1zM370 330h1v1h-1zM372 330h1v1h-1zM374 330h1v1h-1zM376 330h1v1h-1zM378 330h1v1h-1zM380 330h1v1h-1zM382 330h1v1h-1zM384 330h1v1h-1zM386 330h1v1h-1zM388 330h1v1h-1zM390 330h1v1h-1zM392 330h1v1h-1zM394 330h1v1h-1zM396 330h1v1h-1zM398 330h1v1h-1zM400 330h1v1h-1zM402 330h1v1h-1zM404 330h1v1h-1zM406 330h1v1h-1zM408 330h1v1h-1zM410 330h1v1h-1zM410 326h1v1h-1zM410 328h1v1h-1zM411 325h1v1h-1zM413 325h1v1h-1zM415 325h1v1h-1zM417 325h1v1h-1zM419 325h1v1h-1zM421 325h1v1h-1zM423 325h1v1h-1zM425 325h1v1h-1zM427 325h1v1h-1zM429 325h1v1h-1zM431 325h1v1h-1zM433 325h1v1h-1zM435 325h1v1h-1zM437 325h1v1h-1zM438 322h1v1h-1zM438 324h1v1h-1zM439 321h1v1h-1zM441 321h1v1h-1zM443 321h1v1h-1zM445 321h1v1h-1zM447 321h1v1h-1zM449 321h1v1h-1zM451 321h1v1h-1zM453 321h1v1h-1zM455 321h1v1h-1zM457 321h1v1h-1zM459 321h1v1h-1zM461 321h1v1h-1zM463 321h1v1h-1zM465 321h1v1h-1zM467 321h1v1h-1zM469 321h1v1h-1zM471 321h1v1h-1zM473 321h1v1h-1zM475 321h1v1h-1zM477 321h1v1h-1zM479 321h1v1h-1zM481 321h1v1h-1zM483 321h1v1h-1z" fill="#1a1a1a"/>
<path d="M341.60 279.70 H351.40" fill="none" stroke="#000" stroke-width="1.15"/>
<path d="M342 290h1v1h-1zM344 290h1v1h-1zM346 290h1v1h-1zM348 290h1v1h-1zM350 290h1v1h-1z" fill="#1a1a1a"/>
<text x="357.50" y="281.25" class="sf" font-size="8.80px" font-family='"Liberation Serif", serif' text-anchor="start" font-weight="normal" >related</text>
<text x="357.50" y="289.70" class="sf" font-size="8.80px" font-family='"Liberation Serif", serif' text-anchor="start" font-weight="normal" >unrelated</text>
<text x="408.75" y="273.00" class="sf" font-size="8.80px" font-family='"Liberation Serif", serif' text-anchor="middle" font-weight="normal" >n</text>
<text x="443.00" y="271.20" class="sf" font-size="8.80px" font-family='"Liberation Serif", serif' text-anchor="middle" font-weight="normal" >events</text>
<text x="408.75" y="280.50" class="sf" font-size="8.80px" font-family='"Liberation Serif", serif' text-anchor="middle" font-weight="normal" >42</text>
<text x="408.75" y="289.15" class="sf" font-size="8.80px" font-family='"Liberation Serif", serif' text-anchor="middle" font-weight="normal" >60</text>
<text x="443.00" y="279.20" class="sf" font-size="8.80px" font-family='"Liberation Serif", serif' text-anchor="middle" font-weight="normal" >14</text>
<text x="443.00" y="288.40" class="sf" font-size="8.80px" font-family='"Liberation Serif", serif' text-anchor="middle" font-weight="normal" >27</text>
<text x="382.00" y="311.65" class="sf" font-size="8.80px" font-family='"Liberation Serif", serif' text-anchor="start" font-weight="normal" >p (logrank) = 0.24</text>
<text x="-0.30" y="524.40" class="lt" style="text-rendering:geometricPrecision" font-size="23px" font-family='"Liberation Sans", sans-serif' font-weight="bold">E</text>
<path d="M32.75 512.70 V646.25 L211.60 645.85" fill="none" stroke="#000" stroke-width="1.12"/>
<path d="M30.95 646.40 H32.75" stroke="#111" stroke-width="0.9"/>
<text x="29.35" y="648.40" class="lb" font-size="7.20px" font-family='"Liberation Sans", sans-serif' text-anchor="end" font-weight="normal" letter-spacing="-0.15">0</text>
<path d="M30.95 633.06 H32.75" stroke="#111" stroke-width="0.9"/>
<text x="29.35" y="635.06" class="lb" font-size="7.20px" font-family='"Liberation Sans", sans-serif' text-anchor="end" font-weight="normal" letter-spacing="-0.15">,1</text>
<path d="M30.95 619.72 H32.75" stroke="#111" stroke-width="0.9"/>
<text x="29.35" y="621.72" class="lb" font-size="7.20px" font-family='"Liberation Sans", sans-serif' text-anchor="end" font-weight="normal" letter-spacing="-0.15">,2</text>
<path d="M30.95 606.38 H32.75" stroke="#111" stroke-width="0.9"/>
<text x="29.35" y="608.38" class="lb" font-size="7.20px" font-family='"Liberation Sans", sans-serif' text-anchor="end" font-weight="normal" letter-spacing="-0.15">,3</text>
<path d="M30.95 593.04 H32.75" stroke="#111" stroke-width="0.9"/>
<text x="29.35" y="595.04" class="lb" font-size="7.20px" font-family='"Liberation Sans", sans-serif' text-anchor="end" font-weight="normal" letter-spacing="-0.15">,4</text>
<path d="M30.95 579.70 H32.75" stroke="#111" stroke-width="0.9"/>
<text x="29.35" y="581.70" class="lb" font-size="7.20px" font-family='"Liberation Sans", sans-serif' text-anchor="end" font-weight="normal" letter-spacing="-0.15">,5</text>
<path d="M30.95 566.36 H32.75" stroke="#111" stroke-width="0.9"/>
<text x="29.35" y="568.36" class="lb" font-size="7.20px" font-family='"Liberation Sans", sans-serif' text-anchor="end" font-weight="normal" letter-spacing="-0.15">,6</text>
<path d="M30.95 553.02 H32.75" stroke="#111" stroke-width="0.9"/>
<text x="29.35" y="555.02" class="lb" font-size="7.20px" font-family='"Liberation Sans", sans-serif' text-anchor="end" font-weight="normal" letter-spacing="-0.15">,7</text>
<path d="M30.95 539.68 H32.75" stroke="#111" stroke-width="0.9"/>
<text x="29.35" y="541.68" class="lb" font-size="7.20px" font-family='"Liberation Sans", sans-serif' text-anchor="end" font-weight="normal" letter-spacing="-0.15">,8</text>
<path d="M30.95 526.34 H32.75" stroke="#111" stroke-width="0.9"/>
<text x="29.35" y="528.34" class="lb" font-size="7.20px" font-family='"Liberation Sans", sans-serif' text-anchor="end" font-weight="normal" letter-spacing="-0.15">,9</text>
<path d="M30.95 513.00 H32.75" stroke="#111" stroke-width="0.9"/>
<text x="29.35" y="515.00" class="lb" font-size="7.20px" font-family='"Liberation Sans", sans-serif' text-anchor="end" font-weight="normal" letter-spacing="-0.15">1</text>
<path d="M31.75 639.73 H32.75" stroke="#222" stroke-width="0.6"/>
<path d="M31.75 626.39 H32.75" stroke="#222" stroke-width="0.6"/>
<path d="M31.75 613.05 H32.75" stroke="#222" stroke-width="0.6"/>
<path d="M31.75 599.71 H32.75" stroke="#222" stroke-width="0.6"/>
<path d="M31.75 586.37 H32.75" stroke="#222" stroke-width="0.6"/>
<path d="M31.75 573.03 H32.75" stroke="#222" stroke-width="0.6"/>
<path d="M31.75 559.69 H32.75" stroke="#222" stroke-width="0.6"/>
<path d="M31.75 546.35 H32.75" stroke="#222" stroke-width="0.6"/>
<path d="M31.75 533.01 H32.75" stroke="#222" stroke-width="0.6"/>
<path d="M31.75 519.67 H32.75" stroke="#222" stroke-width="0.6"/>
<path d="M32.75 646.40 V647.70" stroke="#111" stroke-width="0.9"/>
<text x="32.55" y="656.40" class="lb" font-size="7.00px" font-family='"Liberation Sans", sans-serif' text-anchor="middle" font-weight="normal" letter-spacing="-0.4">0</text>
<path d="M62.51 646.33 V647.63" stroke="#111" stroke-width="0.9"/>
<text x="62.31" y="656.33" class="lb" font-size="7.00px" font-family='"Liberation Sans", sans-serif' text-anchor="middle" font-weight="normal" letter-spacing="-0.4">2</text>
<path d="M92.27 646.27 V647.57" stroke="#111" stroke-width="0.9"/>
<text x="92.07" y="656.27" class="lb" font-size="7.00px" font-family='"Liberation Sans", sans-serif' text-anchor="middle" font-weight="normal" letter-spacing="-0.4">4</text>
<path d="M122.03 646.20 V647.50" stroke="#111" stroke-width="0.9"/>
<text x="121.83" y="656.20" class="lb" font-size="7.00px" font-family='"Liberation Sans", sans-serif' text-anchor="middle" font-weight="normal" letter-spacing="-0.4">6</text>
<path d="M151.79 646.13 V647.43" stroke="#111" stroke-width="0.9"/>
<text x="151.59" y="656.13" class="lb" font-size="7.00px" font-family='"Liberation Sans", sans-serif' text-anchor="middle" font-weight="normal" letter-spacing="-0.4">8</text>
<path d="M181.55 646.07 V647.37" stroke="#111" stroke-width="0.9"/>
<text x="181.35" y="656.07" class="lb" font-size="7.00px" font-family='"Liberation Sans", sans-serif' text-anchor="middle" font-weight="normal" letter-spacing="-0.4">10</text>
<path d="M211.31 646.00 V647.30" stroke="#111" stroke-width="0.9"/>
<text x="211.11" y="656.00" class="lb" font-size="7.00px" font-family='"Liberation Sans", sans-serif' text-anchor="middle" font-weight="normal" letter-spacing="-0.4">12</text>
<text x="218.00" y="646.00" class="sf" font-size="8.80px" font-family='"Liberation Serif", serif' text-anchor="start" font-weight="normal" >months</text>
<path d="M32.75 513.00 H34.50 V515.00 H36.90 V517.00 H38.10 V520.00 H39.75 V522.90 H45.60 V525.60 H48.75 V529.40 H50.25 V535.60 H53.10 V538.50 H62.75 V545.60 H65.00 V549.40 H66.90 V551.50 H71.25 V555.00 H73.75 V557.50 H76.90 V561.25 H90.40 V564.00 H110.60 V567.50 H139.30 V570.45 H163.80 V573.75 H211.90" fill="none" stroke="#000" stroke-width="1.0" stroke-linejoin="miter"/>
<path d="M33 513h1v1h-1zM35 513h1v1h-1zM37 513h1v1h-1zM37 515h1v1h-1zM39 515h1v1h-1zM41 515h1v1h-1zM41 517h1v1h-1zM43 517h1v1h-1zM45 517h1v1h-1zM46 518h1v1h-1zM46 520h1v1h-1zM48 520h1v1h-1zM50 520h1v1h-1zM52 520h1v1h-1zM53 521h1v1h-1zM53 523h1v1h-1zM53 525h1v1h-1zM54 526h1v1h-1zM54 528h1v1h-1zM56 528h1v1h-1zM58 528h1v1h-1zM58 530h1v1h-1zM58 532h1v1h-1zM59 533h1v1h-1zM60 534h1v1h-1zM60 536h1v1h-1zM60 538h1v1h-1zM62 538h1v1h-1zM63 539h1v1h-1zM63 541h1v1h-1zM63 543h1v1h-1zM63 545h1v1h-1zM63 547h1v1h-1zM65 547h1v1h-1zM66 548h1v1h-1zM66 550h1v1h-1zM67 551h1v1h-1zM69 551h1v1h-1zM69 553h1v1h-1zM69 555h1v1h-1zM71 555h1v1h-1zM72 556h1v1h-1zM72 558h1v1h-1zM73 559h1v1h-1zM74 560h1v1h-1zM75 561h1v1h-1zM75 563h1v1h-1zM75 565h1v1h-1zM76 566h1v1h-1zM76 568h1v1h-1zM78 568h1v1h-1zM79 569h1v1h-1zM80 570h1v1h-1zM81 571h1v1h-1zM81 573h1v1h-1zM83 573h1v1h-1zM85 573h1v1h-1zM87 573h1v1h-1zM87 575h1v1h-1zM89 575h1v1h-1zM91 575h1v1h-1zM91 577h1v1h-1zM92 578h1v1h-1zM94 578h1v1h-1zM95 579h1v1h-1zM95 581h1v1h-1zM97 581h1v1h-1zM98 582h1v1h-1zM98 584h1v1h-1zM100 584h1v1h-1zM102 584h1v1h-1zM104 584h1v1h-1zM106 584h1v1h-1zM108 584h1v1h-1zM110 584h1v1h-1zM112 584h1v1h-1zM114 584h1v1h-1zM115 585h1v1h-1zM116 586h1v1h-1zM117 587h1v1h-1zM117 589h1v1h-1zM119 589h1v1h-1zM121 589h1v1h-1zM123 589h1v1h-1zM125 589h1v1h-1zM127 589h1v1h-1zM129 589h1v1h-1zM131 589h1v1h-1zM133 589h1v1h-1zM135 589h1v1h-1zM137 589h1v1h-1zM139 589h1v1h-1zM139 591h1v1h-1zM140 592h1v1h-1zM142 592h1v1h-1zM144 592h1v1h-1zM146 592h1v1h-1zM148 592h1v1h-1zM150 592h1v1h-1zM152 592h1v1h-1zM154 592h1v1h-1zM156 592h1v1h-1zM158 592h1v1h-1zM160 592h1v1h-1zM162 592h1v1h-1zM164 592h1v1h-1zM166 592h1v1h-1zM167 593h1v1h-1zM167 595h1v1h-1zM169 595h1v1h-1zM171 595h1v1h-1zM173 595h1v1h-1zM175 595h1v1h-1zM177 595h1v1h-1zM179 595h1v1h-1zM181 595h1v1h-1zM181 597h1v1h-1zM182 598h1v1h-1zM184 598h1v1h-1zM186 598h1v1h-1zM188 598h1v1h-1zM190 598h1v1h-1zM192 598h1v1h-1zM194 598h1v1h-1zM196 598h1v1h-1zM198 598h1v1h-1zM200 598h1v1h-1zM200 600h1v1h-1zM200 602h1v1h-1zM202 602h1v1h-1zM204 602h1v1h-1zM206 602h1v1h-1zM208 602h1v1h-1zM210 602h1v1h-1z" fill="#1a1a1a"/>
<path d="M81.40 522.10 H91.60" fill="none" stroke="#000" stroke-width="1.15"/>
<path d="M82 532h1v1h-1zM84 532h1v1h-1zM86 532h1v1h-1zM88 532h1v1h-1zM90 532h1v1h-1z" fill="#1a1a1a"/>
<text x="97.00" y="523.50" class="sf" font-size="8.80px" font-family='"Liberation Serif", serif' text-anchor="start" font-weight="normal" >related</text>
<text x="97.00" y="531.90" class="sf" font-size="8.80px" font-family='"Liberation Serif", serif' text-anchor="start" font-weight="normal" >unrelated</text>
<text x="148.00" y="513.60" class="sf" font-size="8.80px" font-family='"Liberation Serif", serif' text-anchor="middle" font-weight="normal" >n</text>
<text x="181.00" y="512.80" class="sf" font-size="8.80px" font-family='"Liberation Serif", serif' text-anchor="middle" font-weight="normal" >events</text>
<text x="148.00" y="522.50" class="sf" font-size="8.80px" font-family='"Liberation Serif", serif' text-anchor="middle" font-weight="normal" >42</text>
<text x="148.00" y="531.75" class="sf" font-size="8.80px" font-family='"Liberation Serif", serif' text-anchor="middle" font-weight="normal" >60</text>
<text x="181.00" y="521.75" class="sf" font-size="8.80px" font-family='"Liberation Serif", serif' text-anchor="middle" font-weight="normal" >23</text>
<text x="181.00" y="530.50" class="sf" font-size="8.80px" font-family='"Liberation Serif", serif' text-anchor="middle" font-weight="normal" >36</text>
<text x="108.60" y="553.40" class="sf" font-size="8.80px" font-family='"Liberation Serif", serif' text-anchor="start" font-weight="normal" >p (logrank) = 0.26</text>
</svg>
</body></html>
